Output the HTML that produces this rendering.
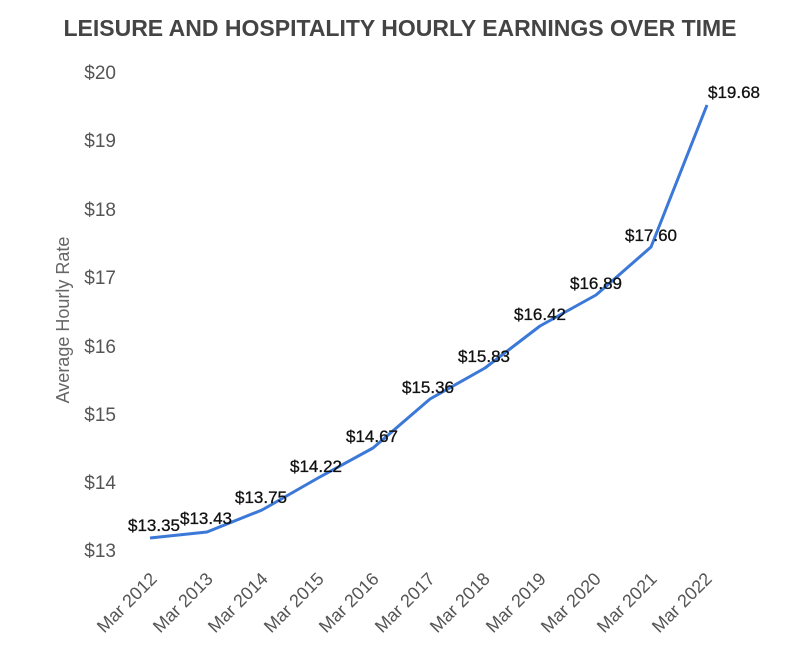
<!DOCTYPE html>
<html><head><meta charset="utf-8"><style>
body{margin:0;background:#fff;}
svg{display:block;font-family:"Liberation Sans",Arial,sans-serif;}
</style></head><body>
<svg width="800" height="651" viewBox="0 0 800 651">
<text x="400" y="36" text-anchor="middle" font-size="23" font-weight="bold" fill="#444">LEISURE AND HOSPITALITY HOURLY EARNINGS OVER TIME</text>
<g font-size="19" fill="#555" text-anchor="end">
<text x="116" y="79">$20</text>
<text x="116" y="147">$19</text>
<text x="116" y="216">$18</text>
<text x="116" y="284">$17</text>
<text x="116" y="353">$16</text>
<text x="116" y="421">$15</text>
<text x="116" y="489">$14</text>
<text x="116" y="557">$13</text>
</g>
<text transform="translate(69,320) rotate(-90)" text-anchor="middle" font-size="18" fill="#666">Average Hourly Rate</text>
<polyline fill="none" stroke="#3b78d8" stroke-width="3" stroke-linejoin="round" points="150,538 207,532 262,510 318,478 373,448 430,399 485,368 540,326 596,295 651,247 707,105"/>
<g font-size="17" fill="#111" text-anchor="middle" stroke="#111" stroke-width="0.3">
<text x="154" y="531">$13.35</text>
<text x="206" y="524">$13.43</text>
<text x="261" y="503">$13.75</text>
<text x="316" y="472">$14.22</text>
<text x="372" y="442">$14.67</text>
<text x="428" y="393">$15.36</text>
<text x="484" y="362">$15.83</text>
<text x="540" y="320">$16.42</text>
<text x="596" y="289">$16.89</text>
<text x="651" y="241">$17.60</text>
<text x="734" y="98">$19.68</text>
</g>
<g font-size="18" fill="#555" text-anchor="end">
<text transform="translate(158,580) rotate(-45)">Mar 2012</text>
<text transform="translate(214,580) rotate(-45)">Mar 2013</text>
<text transform="translate(269,580) rotate(-45)">Mar 2014</text>
<text transform="translate(325,580) rotate(-45)">Mar 2015</text>
<text transform="translate(380,580) rotate(-45)">Mar 2016</text>
<text transform="translate(436,580) rotate(-45)">Mar 2017</text>
<text transform="translate(491,580) rotate(-45)">Mar 2018</text>
<text transform="translate(547,580) rotate(-45)">Mar 2019</text>
<text transform="translate(602,580) rotate(-45)">Mar 2020</text>
<text transform="translate(658,580) rotate(-45)">Mar 2021</text>
<text transform="translate(713,580) rotate(-45)">Mar 2022</text>
</g>
</svg>
</body></html>
